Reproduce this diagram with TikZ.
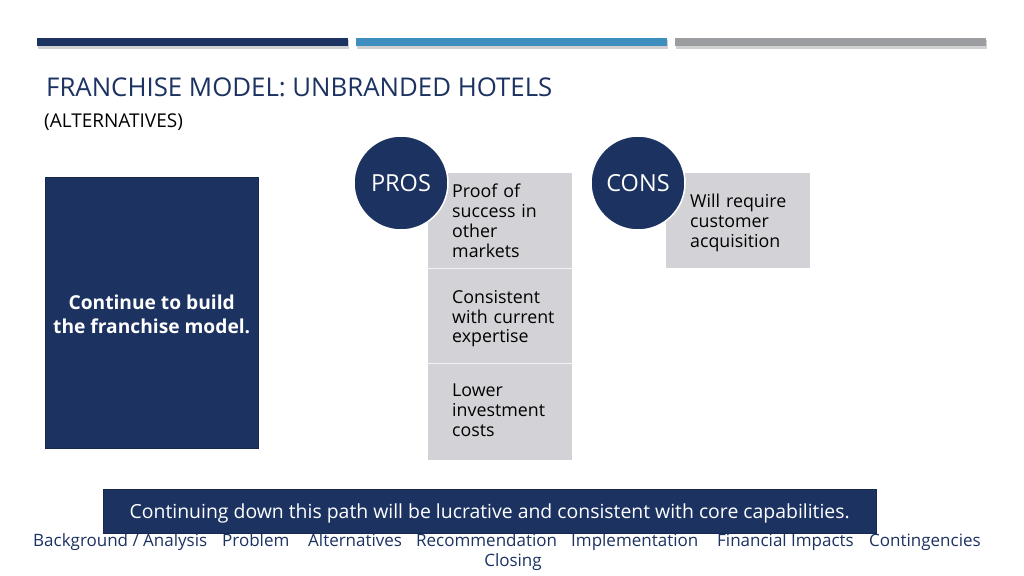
\documentclass[tikz,border=0pt]{standalone}
\usepackage{fontspec}
\setmainfont{Open Sans}
\usetikzlibrary{positioning}

\definecolor{navy}{HTML}{1C3261}
\definecolor{steel}{HTML}{3F8FBE}
\definecolor{slate}{HTML}{9B9DA1}
\definecolor{cellgray}{HTML}{D3D3D7}

\tikzset{
  topbar/.style={minimum height=8pt, minimum width=311pt, inner sep=0pt, anchor=west},
  badge/.style={circle, fill=navy, draw=white, line width=1.5pt, minimum size=94pt, inner sep=0pt,
    text=white, font=\fontsize{23.5}{26}\selectfont},
  cell/.style={fill=cellgray, minimum width=144pt, inner sep=0pt, anchor=north west},
  celltext/.style={anchor=north west, inner sep=0pt, align=left, text width=118pt,
    font=\fontsize{17.8}{19.8}\selectfont},
  navlink/.style={anchor=base west, inner sep=0pt, text=navy, font=\fontsize{17}{19}\selectfont}
}

\begin{document}
\begin{tikzpicture}[x=1pt, y=-1pt]
  \useasboundingbox[fill=white] (0,0) rectangle (1024,575);

  % --- top bars ---
  \foreach \x/\c in {37/navy, 356/steel, 675/slate}{
    \fill[black!18] (\x+1,40) rectangle (\x+312,49);
    \node[topbar, fill=\c] at (\x,42) {};
  }

  % --- heading ---
  \node[anchor=west, inner sep=0pt, text=navy, font=\fontsize{25.8}{30}\selectfont] (title) at (46,87) {FRANCHISE MODEL: UNBRANDED HOTELS};
  \node[anchor=west, inner sep=0pt, font=\fontsize{19}{22}\selectfont] (subtitle) at (44,122.5) {(ALTERNATIVES)};

  % --- decision box ---
  \node[fill=navy, draw=navy!80!black, minimum width=213pt, minimum height=271pt, anchor=north west] (choice) at (45,177) {};
  \node[align=center, text=white, font=\bfseries\fontsize{19.2}{24}\selectfont] at ([yshift=-2pt]choice.center) {Continue to build\\the franchise model.};

  % --- pros ---
  \node[cell, minimum height=95pt] (pro1) at (428,173) {};
  \node[cell, minimum height=94pt] (pro2) at (428,269) {};
  \node[cell, minimum height=96pt] (pro3) at (428,364) {};
  \draw[white!70!cellgray, line width=1pt] (pro1.south west) -- (pro1.south east);
  \draw[white!70!cellgray, line width=1pt] (pro2.south west) -- (pro2.south east);
  \node[celltext] at (452,184) {Proof of\\success in\\other\\markets};
  \node[celltext] at (452,290) {Consistent\\with current\\expertise};
  \node[celltext] at (452,384) {Lower\\investment\\costs};
  \node[badge] (pros) at (401,183) {PROS};

  % --- cons ---
  \node[cell, minimum height=95pt] (con1) at (666,173) {};
  \node[celltext] at (690,194) {Will require\\customer\\acquisition};
  \node[badge] (cons) at (638,183) {CONS};

  % --- summary banner ---
  \node[fill=navy, draw=navy!80!black, minimum width=773pt, minimum height=44pt, anchor=north west] (summary) at (103,489) {};
  \node[text=white, font=\fontsize{19.4}{22}\selectfont] at ([yshift=-2.5pt]summary.center) {Continuing down this path will be lucrative and consistent with core capabilities.};

  % --- navigation ---
  \node[navlink] (nav1) at (33,546) {Background / Analysis};
  \node[navlink] (nav2) at (222,546) {Problem};
  \node[navlink] (nav3) at (308,546) {Alternatives};
  \node[navlink] (nav4) at (416,546) {Recommendation};
  \node[navlink] (nav5) at (571,546) {Implementation};
  \node[navlink] (nav6) at (717,546) {Financial Impacts};
  \node[navlink] (nav7) at (869,546) {Contingencies};
  \node[navlink, anchor=base] (nav8) at (513,566) {Closing};
\end{tikzpicture}
\end{document}
